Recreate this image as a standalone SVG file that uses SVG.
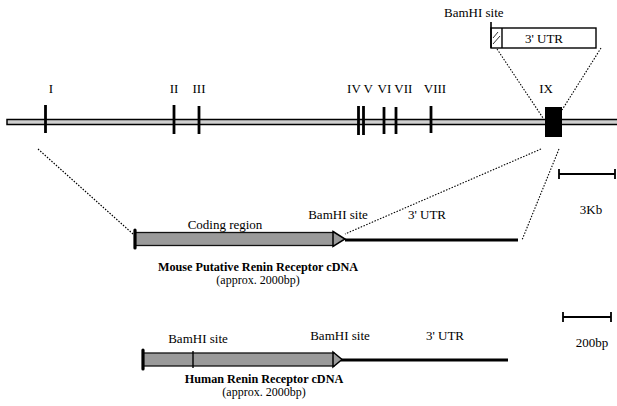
<svg xmlns="http://www.w3.org/2000/svg" width="617" height="406" viewBox="0 0 617 406">
<style>
text{font-family:"Liberation Serif","Times New Roman",serif;font-size:13px;fill:#000}
.b{font-weight:bold;font-size:12.2px}
.s{font-size:12px}
.m{text-anchor:middle}
.dot{stroke:#000;stroke-width:1.1;stroke-dasharray:1.5 1.5;fill:none}
.ex{stroke:#000;stroke-width:2.8}
.bar{fill:#9a9a9a;stroke:#111;stroke-width:1.3}
.utr{stroke:#000;stroke-width:3}
.sc{stroke:#000;stroke-width:1.8;fill:none}
</style>
<rect width="617" height="406" fill="#fff"/>
<g id="genomic">
<rect x="7" y="119.5" width="612" height="5" fill="#cfcfcf" stroke="#000" stroke-width="1.5"/>
<line class="ex" x1="45.5" y1="105" x2="45.5" y2="133"/>
<line class="ex" x1="174" y1="105" x2="174" y2="134"/>
<line class="ex" x1="199" y1="106" x2="199" y2="134"/>
<line class="ex" x1="358.5" y1="106" x2="358.5" y2="135"/>
<line class="ex" x1="363.5" y1="106" x2="363.5" y2="135"/>
<line class="ex" x1="384" y1="107" x2="384" y2="134"/>
<line class="ex" x1="396" y1="107" x2="396" y2="134"/>
<line class="ex" x1="431" y1="106" x2="431" y2="133"/>
<rect id="exonIX" x="545" y="107" width="17" height="30" fill="#000"/>
<text x="51" y="93" class="m">I</text>
<text x="174" y="93" class="m">II</text>
<text x="199" y="93" class="m">III</text>
<text x="360" y="93" class="m">IV V</text>
<text x="395" y="93" class="m">VI VII</text>
<text x="435" y="93" class="m">VIII</text>
<text x="546" y="93" class="m">IX</text>
</g>
<g id="utrbox">
<rect x="491" y="28" width="105" height="20" fill="#fff" stroke="#000" stroke-width="1.4"/>
<line x1="502" y1="28" x2="502" y2="48" stroke="#000" stroke-width="1.4"/>
<line x1="493" y1="38" x2="498" y2="32" stroke="#000" stroke-width="0.8"/>
<line x1="493" y1="44" x2="500" y2="36" stroke="#000" stroke-width="0.8"/>
<line x1="491" y1="22" x2="491" y2="48" stroke="#000" stroke-width="1.6"/>
<text x="444" y="17">BamHI site</text>
<text x="544" y="43" class="m">3' UTR</text>
</g>
<g id="mouse">
<rect class="bar" x="135" y="232.5" width="199" height="13"/>
<polygon points="333,231.5 345,239 333,246.5" fill="#9a9a9a" stroke="#000" stroke-width="1.5"/>
<line x1="135" y1="230" x2="135" y2="248" stroke="#000" stroke-width="3.2" stroke-linecap="round"/>
<line class="utr" x1="345" y1="240" x2="518" y2="240"/>
<text x="225" y="229" class="m">Coding region</text>
<text x="338" y="219" class="m">BamHI site</text>
<text x="427" y="219" class="m">3' UTR</text>
<text x="258" y="271" class="m b">Mouse Putative Renin Receptor cDNA</text>
<text x="258" y="284" class="m s">(approx. 2000bp)</text>
</g>
<g id="human">
<rect class="bar" x="143" y="353" width="191" height="13"/>
<polygon points="333,352 342,359.5 333,367" fill="#9a9a9a" stroke="#000" stroke-width="1.5"/>
<line x1="143" y1="350" x2="143" y2="369" stroke="#000" stroke-width="3.2" stroke-linecap="round"/>
<line x1="193" y1="351" x2="193" y2="368" stroke="#000" stroke-width="1.4"/>
<line class="utr" x1="341" y1="360" x2="508" y2="360"/>
<text x="198" y="343" class="m">BamHI site</text>
<text x="340" y="340" class="m">BamHI site</text>
<text x="445" y="340" class="m">3' UTR</text>
<text x="264" y="383" class="m b">Human Renin Receptor cDNA</text>
<text x="264" y="396" class="m s">(approx. 2000bp)</text>
</g>
<g id="connectors">
<line class="dot" x1="497" y1="49" x2="543" y2="118"/>
<line class="dot" x1="601" y1="48" x2="562" y2="110"/>
<line class="dot" x1="38" y1="149" x2="133" y2="234"/>
<line class="dot" x1="541" y1="149" x2="345" y2="234"/>
<line class="dot" x1="559" y1="149" x2="522" y2="240"/>
</g>
<g id="scale3kb">
<path class="sc" d="M559 174H615M559 169V179M615 169V179"/>
<text x="591" y="214" class="m">3Kb</text>
</g>
<g id="scale200bp">
<path class="sc" d="M563 317H611M563 312V322M611 312V322"/>
<text x="592" y="347" class="m">200bp</text>
</g>
</svg>
